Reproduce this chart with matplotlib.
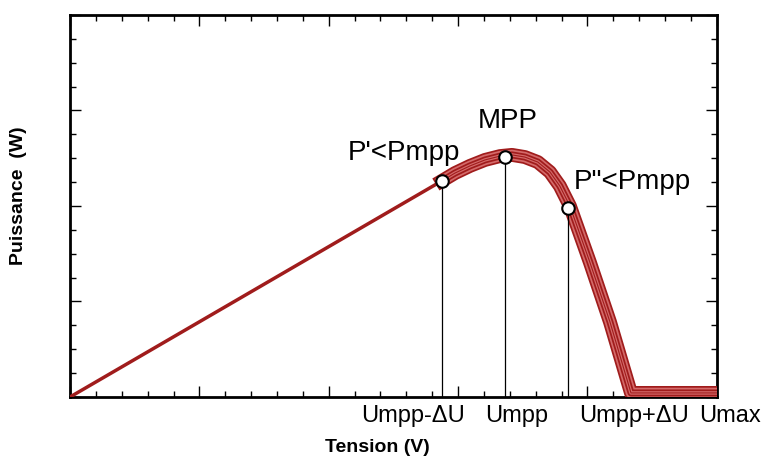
import matplotlib.pyplot as plt
import matplotlib.transforms as mtransforms
from matplotlib.ticker import MultipleLocator

plt.rcParams['font.family'] = ['Liberation Sans', 'DejaVu Sans']

# linear part of the P-U curve (tension, puissance)
u_lin = [0.0, 14.37]
p_lin = [0.0, 9.05]

# curved part around the MPP, then the drop and the flat end at Umax
u_curve = [14.37, 14.88, 15.46, 16.04, 16.62, 17.08, 17.58, 18.08, 18.55,
           18.93, 19.32, 20.09, 20.87, 21.68, 25.0]
p_curve = [9.05, 9.38, 9.68, 9.93, 10.09, 10.14, 10.05, 9.84, 9.42,
           8.84, 8.00, 5.65, 3.14, 0.17, 0.17]

# operating points: Umpp-dU, Umpp, Umpp+dU
u_pts = [14.37, 16.81, 19.24]
p_pts = [9.05, 10.05, 7.92]

tick_names = ['Umpp-\u0394U', 'Umpp', 'Umpp+\u0394U', 'Umax']
tick_pos = [13.25, 17.27, 21.8, 25.5]

point_names = ["P'<Pmpp", 'MPP', 'P"<Pmpp']
point_lbl_u = [12.9, 16.92, 21.75]
point_lbl_p = [10.22, 11.56, 9.0]

fig = plt.figure(figsize=(7.61, 4.57), dpi=100)
ax = fig.add_axes([0.092, 0.1313, 0.85, 0.8359])

dark = '#a01c1c'
light = '#d46a6a'
ax.plot(u_lin, p_lin, color=dark, lw=2.5, solid_capstyle='butt', zorder=3)
# striped thick band
ax.plot(u_curve, p_curve, color=dark, lw=10, solid_joinstyle='round', zorder=3)
ax.plot(u_curve, p_curve, color=light, lw=7.5, solid_joinstyle='round', zorder=3)
ax.plot(u_curve, p_curve, color=dark, lw=5, solid_joinstyle='round', zorder=3)
ax.plot(u_curve, p_curve, color=light, lw=2.5, solid_joinstyle='round', zorder=3)
ax.plot(u_curve, p_curve, color=dark, lw=0.8, solid_joinstyle='round', zorder=3)

for u, p in zip(u_pts, p_pts):
    ax.plot([u, u], [0, p], color='black', lw=0.9, zorder=4)
ax.plot(u_pts, p_pts, 'o', ms=9, mfc='white', mec='black', mew=1.5, zorder=5)

for name, u, p in zip(point_names, point_lbl_u, point_lbl_p):
    ax.text(u, p, name, fontsize=20, ha='center', va='center')

trans = mtransforms.blended_transform_factory(ax.transData, ax.transAxes)
for name, u in zip(tick_names, tick_pos):
    ax.text(u, -0.05, name, fontsize=17, ha='center', va='center',
            transform=trans, clip_on=False)

ax.set_xlim(0, 25)
ax.set_ylim(0, 16)
ax.xaxis.set_major_locator(MultipleLocator(5))
ax.xaxis.set_minor_locator(MultipleLocator(1))
ax.yaxis.set_major_locator(MultipleLocator(4))
ax.yaxis.set_minor_locator(MultipleLocator(1))
ax.tick_params(which='both', direction='in', top=True, right=True,
               labelbottom=False, labelleft=False)
ax.tick_params(which='major', length=8, width=1)
ax.tick_params(which='minor', length=4, width=1)
for s in ax.spines.values():
    s.set_linewidth(2)

fig.text(377 / 761, 1 - 447 / 457, 'Tension (V)', fontsize=14, fontweight='bold',
         ha='center', va='center')
fig.text(19 / 761, 1 - 196 / 457, 'Puissance  (W)', fontsize=14, fontweight='bold',
         ha='center', va='center', rotation=90)

fig.savefig('out.png', dpi=100)
